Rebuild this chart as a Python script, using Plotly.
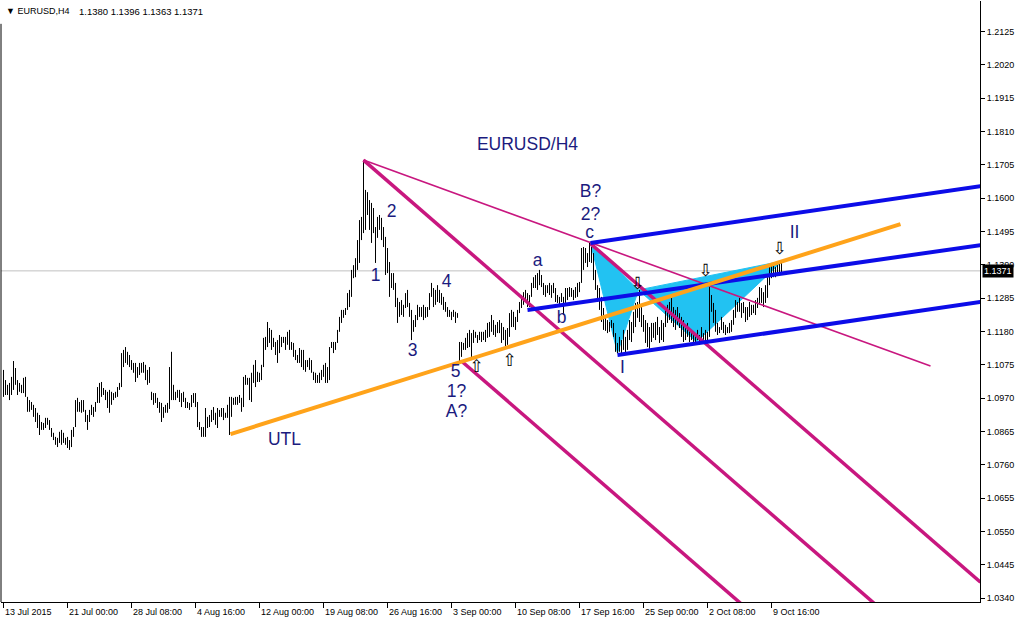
import plotly.graph_objects as go

# ---------------- data (EURUSD H4, bar index -> high / low) ----------------
HIGHS = [
 1.1059,1.1027,1.1012,1.1018,1.1037,1.1087,1.1065,1.1027,1.1018,1.1012,
 1.1034,1.1037,1.0974,1.0964,1.0958,1.0949,1.0939,1.0924,1.0917,1.0895,
 1.0892,1.0908,1.0908,1.0901,1.0876,1.0861,1.0848,1.0845,1.0864,1.0870,
 1.0861,1.0845,1.0848,1.0838,1.0870,1.0879,1.0964,1.0971,1.0958,1.0964,
 1.0964,1.0933,1.0917,1.0933,1.0949,1.0942,1.0958,1.1005,1.1018,1.1021,
 1.1002,1.0996,1.0990,1.0996,1.0990,1.0986,1.0990,1.1005,1.1018,1.1112,
 1.1122,1.1131,1.1116,1.1106,1.1090,1.1081,1.1081,1.1068,1.1081,1.1081,
 1.1084,1.1075,1.1059,1.1068,1.0990,1.0986,1.0986,1.0971,1.0958,1.0955,
 1.0942,1.0949,1.0955,1.1068,1.1116,1.1012,1.0990,1.0996,1.0996,1.0986,
 1.0990,1.0971,1.0958,1.0955,1.0980,1.0986,1.0986,1.0958,1.0895,1.0879,
 1.0879,1.0939,1.0911,1.0917,1.0933,1.0942,1.0924,1.0939,1.0933,1.0939,
 1.0939,1.0924,1.0949,1.0974,1.0974,1.0971,1.0974,1.0974,1.0980,1.0971,
 1.1037,1.1043,1.1034,1.1034,1.1050,1.1075,1.1090,1.1053,1.1050,1.1075,
 1.1160,1.1163,1.1210,1.1191,1.1185,1.1160,1.1147,1.1153,1.1169,1.1163,
 1.1163,1.1163,1.1179,1.1185,1.1147,1.1144,1.1122,1.1106,1.1128,1.1122,
 1.1122,1.1090,1.1090,1.1097,1.1090,1.1053,1.1050,1.1043,1.1050,1.1059,
 1.1075,1.1081,1.1068,1.1131,1.1147,1.1147,1.1147,1.1185,1.1226,1.1248,
 1.1248,1.1254,1.1301,1.1311,1.1374,1.1389,1.1411,1.1468,1.1531,1.1541,
 1.1720,1.1626,1.1619,1.1594,1.1585,1.1569,1.1509,1.1541,1.1547,1.1538,
 1.1509,1.1478,1.1443,1.1399,1.1364,1.1364,1.1333,1.1286,1.1273,1.1279,
 1.1264,1.1301,1.1311,1.1270,1.1248,1.1216,1.1232,1.1264,1.1257,1.1257,
 1.1264,1.1257,1.1257,1.1301,1.1333,1.1317,1.1311,1.1326,1.1311,1.1301,
 1.1289,1.1273,1.1257,1.1248,1.1242,1.1248,1.1242,1.1238,1.1147,1.1147,
 1.1144,1.1160,1.1175,1.1185,1.1175,1.1185,1.1179,1.1169,1.1179,1.1179,
 1.1179,1.1185,1.1207,1.1210,1.1232,1.1216,1.1201,1.1210,1.1216,1.1207,
 1.1194,1.1185,1.1191,1.1238,1.1248,1.1242,1.1226,1.1248,1.1273,1.1295,
 1.1304,1.1311,1.1301,1.1295,1.1333,1.1351,1.1358,1.1364,1.1374,1.1358,
 1.1333,1.1326,1.1326,1.1333,1.1326,1.1333,1.1317,1.1295,1.1289,1.1301,
 1.1289,1.1317,1.1317,1.1320,1.1317,1.1311,1.1320,1.1333,1.1336,1.1443,
 1.1446,1.1443,1.1427,1.1459,1.1446,1.1427,1.1374,1.1326,1.1317,1.1289,
 1.1254,1.1226,1.1216,1.1210,1.1216,1.1207,1.1175,1.1144,1.1163,1.1153,
 1.1185,1.1163,1.1185,1.1216,1.1210,1.1242,1.1270,1.1273,1.1311,1.1257,
 1.1232,1.1216,1.1207,1.1194,1.1207,1.1207,1.1210,1.1226,1.1194,1.1216,
 1.1207,1.1257,1.1264,1.1273,1.1286,1.1257,1.1248,1.1257,1.1238,1.1226,
 1.1216,1.1201,1.1207,1.1185,1.1185,1.1179,1.1175,1.1185,1.1169,1.1194,
 1.1175,1.1185,1.1179,1.1320,1.1295,1.1270,1.1248,1.1207,1.1194,1.1226,
 1.1210,1.1201,1.1194,1.1207,1.1216,1.1248,1.1279,1.1273,1.1286,1.1270,
 1.1273,1.1257,1.1257,1.1273,1.1264,1.1264,1.1279,1.1286,1.1320,1.1317,
 1.1304,1.1326,1.1351,1.1383,1.1389,1.1396,1.1383,1.1389,1.1396,1.1396,
]
LOWS = [
 1.0974,1.0980,1.0980,1.0964,1.0980,1.0996,1.1012,1.0980,1.0990,1.0986,
 1.0986,1.0974,1.0927,1.0927,1.0933,1.0911,1.0895,1.0876,1.0854,1.0870,
 1.0870,1.0876,1.0886,1.0870,1.0848,1.0838,1.0823,1.0816,1.0829,1.0823,
 1.0829,1.0823,1.0813,1.0807,1.0816,1.0848,1.0879,1.0927,1.0927,1.0924,
 1.0927,1.0895,1.0870,1.0895,1.0917,1.0911,1.0927,1.0955,1.0955,1.0974,
 1.0980,1.0964,1.0939,1.0924,1.0949,1.0964,1.0971,1.0974,1.0996,1.1005,
 1.1068,1.1081,1.1075,1.1068,1.1059,1.1050,1.1021,1.1034,1.1043,1.1050,
 1.1050,1.1027,1.1012,1.1018,1.0964,1.0949,1.0955,1.0939,1.0924,1.0895,
 1.0908,1.0924,1.0924,1.0936,1.0964,1.0964,1.0964,1.0971,1.0958,1.0942,
 1.0958,1.0939,1.0939,1.0933,1.0942,1.0955,1.0942,1.0879,1.0870,1.0848,
 1.0848,1.0848,1.0876,1.0879,1.0895,1.0901,1.0886,1.0876,1.0911,1.0911,
 1.0901,1.0908,1.0908,1.0854,1.0911,1.0949,1.0949,1.0949,1.0955,1.0927,
 1.0942,1.1012,1.1012,1.0964,1.0958,1.1018,1.1005,1.1021,1.1021,1.1027,
 1.1068,1.1122,1.1131,1.1144,1.1122,1.1131,1.1106,1.1081,1.1112,1.1131,
 1.1144,1.1122,1.1138,1.1122,1.1122,1.1100,1.1090,1.1081,1.1081,1.1068,
 1.1059,1.1053,1.1068,1.1059,1.1050,1.1027,1.1018,1.1018,1.1018,1.1027,
 1.1037,1.1018,1.1018,1.1027,1.1128,1.1112,1.1122,1.1144,1.1179,1.1207,
 1.1223,1.1232,1.1248,1.1257,1.1289,1.1348,1.1351,1.1374,1.1396,1.1468,
 1.1490,1.1500,1.1547,1.1500,1.1459,1.1490,1.1396,1.1475,1.1500,1.1468,
 1.1446,1.1358,1.1364,1.1289,1.1317,1.1311,1.1257,1.1207,1.1226,1.1232,
 1.1226,1.1254,1.1257,1.1226,1.1153,1.1179,1.1194,1.1216,1.1226,1.1226,
 1.1216,1.1223,1.1226,1.1248,1.1289,1.1257,1.1264,1.1273,1.1270,1.1264,
 1.1248,1.1242,1.1226,1.1226,1.1216,1.1226,1.1207,1.1223,1.1084,1.1100,
 1.1122,1.1122,1.1128,1.1131,1.1090,1.1144,1.1160,1.1144,1.1153,1.1147,
 1.1153,1.1147,1.1160,1.1163,1.1179,1.1169,1.1163,1.1175,1.1175,1.1144,
 1.1153,1.1131,1.1138,1.1163,1.1194,1.1194,1.1185,1.1210,1.1238,1.1254,
 1.1264,1.1273,1.1257,1.1257,1.1289,1.1317,1.1317,1.1311,1.1326,1.1320,
 1.1295,1.1289,1.1301,1.1295,1.1286,1.1301,1.1273,1.1270,1.1257,1.1273,
 1.1232,1.1270,1.1279,1.1289,1.1289,1.1279,1.1286,1.1289,1.1304,1.1333,
 1.1374,1.1396,1.1383,1.1399,1.1396,1.1342,1.1311,1.1273,1.1248,1.1210,
 1.1185,1.1182,1.1175,1.1179,1.1191,1.1163,1.1116,1.1112,1.1116,1.1112,
 1.1122,1.1112,1.1122,1.1153,1.1147,1.1175,1.1194,1.1223,1.1210,1.1194,
 1.1179,1.1144,1.1131,1.1122,1.1147,1.1160,1.1153,1.1169,1.1144,1.1153,
 1.1147,1.1194,1.1207,1.1216,1.1207,1.1194,1.1185,1.1201,1.1191,1.1163,
 1.1147,1.1153,1.1163,1.1147,1.1153,1.1147,1.1144,1.1153,1.1138,1.1160,
 1.1153,1.1147,1.1153,1.1163,1.1242,1.1207,1.1179,1.1169,1.1175,1.1185,
 1.1175,1.1169,1.1175,1.1175,1.1179,1.1201,1.1223,1.1242,1.1242,1.1223,
 1.1238,1.1210,1.1216,1.1226,1.1232,1.1238,1.1232,1.1254,1.1264,1.1270,
 1.1257,1.1270,1.1286,1.1326,1.1348,1.1351,1.1351,1.1364,1.1367,1.1363,
]
LAST_OHLC = ["1.1380", "1.1396", "1.1363", "1.1371"]
BID = 1.1371

X_TICK_IDX = [0, 32, 64, 96, 128, 160, 192, 224, 256, 288, 320, 352, 384]
X_TICK_TEXT = ["13 Jul 2015", "21 Jul 00:00", "28 Jul 08:00", "4 Aug 16:00",
               "12 Aug 00:00", "19 Aug 08:00", "26 Aug 16:00", "3 Sep 00:00",
               "10 Sep 08:00", "17 Sep 16:00", "25 Sep 00:00", "2 Oct 08:00",
               "9 Oct 16:00"]
Y_TICKS = [1.0340, 1.0445, 1.0550, 1.0655, 1.0760, 1.0865, 1.0970, 1.1075,
           1.1180, 1.1285, 1.1390, 1.1495, 1.1600, 1.1705, 1.1810, 1.1915,
           1.2020, 1.2125]

# drawn objects: anchors (bar index, price)
LINE_NAMES = ["thin_tl", "fork_mid", "fork_low", "fork_high",
              "ch_top", "ch_mid", "ch_low", "utl"]
LINE_X0 = [180, 180, 229.5, 293.5, 293.5, 262, 307, 113.5]
LINE_P0 = [1.1720, 1.1720, 1.1084, 1.1457, 1.1459, 1.1248, 1.1106, 1.0857]
LINE_X1 = [463.5, 488.5, 488.5, 488.5, 488.5, 488.5, 488.5, 448.5]
LINE_P1 = [1.1071, 1.0033, 0.9668, 1.0390, 1.1638, 1.1452, 1.1273, 1.1518]

PATTERN1_X = [293.5, 307, 317.5]
PATTERN1_P = [1.1459, 1.1112, 1.1311]
PATTERN2_X = [317.5, 346.5, 389.5]
PATTERN2_P = [1.1311, 1.1147, 1.1402]

UP_ARROW_X = [236.5, 253]
UP_ARROW_P = [1.1065, 1.1084]
DN_ARROW_X = [317, 351, 388]
DN_ARROW_P = [1.1326, 1.1367, 1.1437]

LABEL_TEXT = ["EURUSD/H4", "2", "1", "3", "4", "5", "1?", "A?", "UTL",
              "a", "b", "c", "B?", "2?", "I", "II"]
LABEL_X = [262, 194, 186, 204.5, 221.5, 226, 226.5, 226.5, 140.5,
           267, 279, 293, 293.5, 293.5, 309.5, 395.5]
LABEL_P = [1.1767, 1.1553, 1.1352, 1.1116, 1.1333, 1.1049, 1.0986, 1.0923,
           1.0835, 1.1399, 1.1219, 1.1487, 1.1616, 1.1544, 1.1062, 1.1487]

# ---------------- styles ----------------
MAGENTA = "#C8177F"
BLUE = "#0C0CE8"
ORANGE = "#FFA31A"
CYAN = "#22C2F2"
NAVY = "#1B1B7E"
LINE_STYLE = {
    "thin_tl": (MAGENTA, 1.6), "fork_mid": (MAGENTA, 3.5),
    "fork_low": (MAGENTA, 3.5), "fork_high": (MAGENTA, 3.5),
    "ch_top": (BLUE, 4), "ch_mid": (BLUE, 4), "ch_low": (BLUE, 4),
    "utl": (ORANGE, 4),
}

fig = go.Figure()

# cyan harmonic pattern
for px, pp in ((PATTERN1_X, PATTERN1_P), (PATTERN2_X, PATTERN2_P)):
    fig.add_trace(go.Scatter(x=px + [px[0]], y=pp + [pp[0]], mode="lines",
                             fill="toself", fillcolor=CYAN,
                             line=dict(color=CYAN, width=1),
                             hoverinfo="skip", showlegend=False))

# bars
bx, by = [], []
for i, (h, l) in enumerate(zip(HIGHS, LOWS)):
    bx += [i, i, None]
    by += [l, h, None]
fig.add_trace(go.Scatter(x=bx, y=by, mode="lines",
                         line=dict(color="black", width=1),
                         hoverinfo="skip", showlegend=False))

# bid line
fig.add_shape(type="line", xref="paper", x0=0, x1=1, yref="y", y0=BID, y1=BID,
              line=dict(color="#C0C0C0", width=1), layer="below")

# trend lines
for name, x0, p0, x1, p1 in zip(LINE_NAMES, LINE_X0, LINE_P0, LINE_X1, LINE_P1):
    col, w = LINE_STYLE[name]
    fig.add_trace(go.Scatter(x=[x0, x1], y=[p0, p1], mode="lines",
                             line=dict(color=col, width=w),
                             hoverinfo="skip", showlegend=False))

# arrows
fig.add_trace(go.Scatter(x=UP_ARROW_X, y=UP_ARROW_P, mode="text",
                         text=["\u21e7"] * len(UP_ARROW_X),
                         textfont=dict(family="DejaVu Sans", size=17, color="black"),
                         hoverinfo="skip", showlegend=False))
fig.add_trace(go.Scatter(x=DN_ARROW_X, y=DN_ARROW_P, mode="text",
                         text=["\u21e9"] * len(DN_ARROW_X),
                         textfont=dict(family="DejaVu Sans", size=17, color="black"),
                         hoverinfo="skip", showlegend=False))

# wave labels
fig.add_trace(go.Scatter(x=LABEL_X, y=LABEL_P, mode="text", text=LABEL_TEXT,
                         textfont=dict(family="Liberation Sans, Arial", size=17.5, color=NAVY),
                         hoverinfo="skip", showlegend=False))

annotations = []
for idx, txt in zip(X_TICK_IDX, X_TICK_TEXT):
    annotations.append(dict(x=idx, xref="x", y=0, yref="paper", text=txt,
                            showarrow=False, xanchor="left", yanchor="top",
                            xshift=-1, yshift=-3,
                            font=dict(family="Liberation Sans, Arial", size=9, color="black")))
annotations.append(dict(x=1, xref="paper", y=BID, yref="y", text=LAST_OHLC[3],
                        showarrow=False, xanchor="left", yanchor="middle",
                        xshift=2, bgcolor="black", borderpad=1,
                        font=dict(family="Liberation Sans, Arial", size=9, color="white")))
annotations.append(dict(x=0, xref="paper", y=1, yref="paper",
                        text="\u25bc EURUSD,H4", showarrow=False,
                        xanchor="left", yanchor="top", xshift=3, yshift=-3,
                        font=dict(family="Liberation Sans, Arial", size=9, color="black")))
annotations.append(dict(x=0, xref="paper", y=1, yref="paper",
                        text=" ".join(LAST_OHLC), showarrow=False,
                        xanchor="left", yanchor="top", xshift=76, yshift=-3,
                        font=dict(family="Liberation Sans, Arial", size=9.5, color="black")))

fig.add_shape(type="line", xref="paper", yref="paper", x0=0, x1=0, y0=0, y1=0.962,
              line=dict(color="black", width=1))

fig.update_layout(
    width=1020, height=620,
    margin=dict(l=1, r=40, t=1, b=18),
    paper_bgcolor="white", plot_bgcolor="white",
    showlegend=False,
    annotations=annotations,
    xaxis=dict(range=[-1.25, 488.25], showgrid=False, zeroline=False,
               showline=True, linecolor="black", linewidth=1,
               tickmode="array", tickvals=X_TICK_IDX, showticklabels=False,
               ticks="outside", ticklen=5, tickcolor="black"),
    yaxis=dict(range=[1.03279, 1.22211], side="right", showgrid=False,
               zeroline=False, showline=True, linecolor="black", linewidth=1,
               tickmode="array", tickvals=Y_TICKS,
               ticktext=["%.4f" % v for v in Y_TICKS],
               ticks="outside", ticklen=4, tickcolor="black",
               tickfont=dict(family="Liberation Sans, Arial", size=9, color="black")),
)

fig.write_html("out.html", config={"displayModeBar": False},
               post_script="document.body.style.margin='0';document.body.style.overflow='hidden';")
